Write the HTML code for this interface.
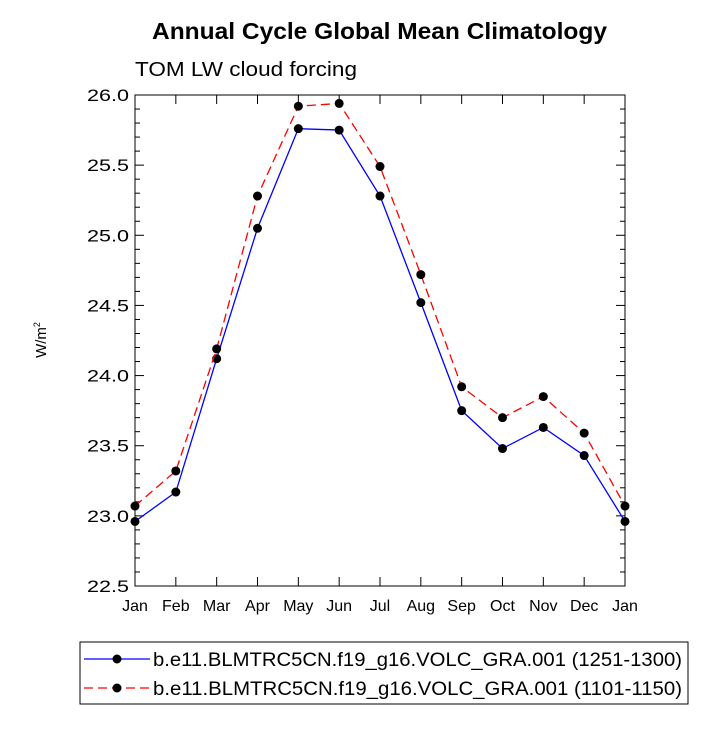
<!DOCTYPE html>
<html><head><meta charset="utf-8"><style>
body{margin:0;background:#fff}
svg text{font-family:"Liberation Sans",Arial,sans-serif}
</style></head><body>
<svg id="chart" width="727" height="728" xmlns="http://www.w3.org/2000/svg">
<text x="152" y="39" font-size="23" font-weight="bold" textLength="455" lengthAdjust="spacingAndGlyphs">Annual Cycle Global Mean Climatology</text>
<text x="135" y="76" font-size="20" textLength="222" lengthAdjust="spacingAndGlyphs">TOM LW cloud forcing</text>
<text transform="translate(46,340) rotate(-90)" font-size="15" text-anchor="middle">W/m<tspan font-size="9" dy="-6">2</tspan></text>
<g id="axes"></g>
<g id="series"></g>
<g id="legend">
<rect x="80" y="642" width="608" height="62" fill="#fff" stroke="#000" stroke-width="1"/>
</g>
</svg>
<script>
const months=["Jan","Feb","Mar","Apr","May","Jun","Jul","Aug","Sep","Oct","Nov","Dec","Jan"];
const yTicks=[22.5,23.0,23.5,24.0,24.5,25.0,25.5,26.0];
const series1=[22.96,23.17,24.12,25.05,25.76,25.75,25.28,24.52,23.75,23.48,23.63,23.43,22.96];
const series2=[23.07,23.32,24.19,25.28,25.92,25.94,25.49,24.72,23.92,23.70,23.85,23.59,23.07];
const labels=["b.e11.BLMTRC5CN.f19_g16.VOLC_GRA.001 (1251-1300)","b.e11.BLMTRC5CN.f19_g16.VOLC_GRA.001 (1101-1150)"];
const NS="http://www.w3.org/2000/svg";
const L=135,R=625,T=95,B=586,ymin=22.5,ymax=26.0;
function xs(i){return L+i*(R-L)/(months.length-1);}
function ys(v){return B-(v-ymin)/(ymax-ymin)*(B-T);}
function mk(tag,attrs,parent){const e=document.createElementNS(NS,tag);for(const k in attrs)e.setAttribute(k,attrs[k]);parent.appendChild(e);return e;}
const ax=document.getElementById('axes');
const frame=mk('rect',{x:L,y:T,width:R-L,height:B-T,fill:'none',stroke:'#000','stroke-width':1},ax);


for(let v=ymin;v<=ymax+1e-6;v+=0.1){
 const y=ys(v);const major=Math.abs(v*2-Math.round(v*2))<1e-6;const len=major?9:5;
 mk('line',{x1:L,x2:L+len,y1:y,y2:y,stroke:'#000'},ax);
 mk('line',{x1:R,x2:R-len,y1:y,y2:y,stroke:'#000'},ax);
}
yTicks.forEach(v=>{
 const t=mk('text',{x:L-6,y:ys(v)+6,'font-size':17,'text-anchor':'end',textLength:42,lengthAdjust:'spacingAndGlyphs'},ax);t.textContent=v.toFixed(1);
 
 
});
months.forEach((m,i)=>{
 const x=xs(i);
 mk('line',{x1:x,x2:x,y1:B,y2:B-9,stroke:'#000'},ax);
 mk('line',{x1:x,x2:x,y1:T,y2:T+9,stroke:'#000'},ax);
 const t=mk('text',{x:x,y:B+25,'font-size':16,'text-anchor':'middle'},ax);t.textContent=m;
 
 
});
const sg=document.getElementById('series');
function draw(vals,color,dash,name){
 const g=mk('g',{},sg);
 
 
 const p=mk('polyline',{points:vals.map((v,i)=>xs(i)+','+ys(v)).join(' '),fill:'none',stroke:color,'stroke-width':1.3,'stroke-dasharray':dash},g);
 
 
 vals.forEach((v,i)=>{
  const c=mk('circle',{cx:xs(i),cy:ys(v),r:4.5,fill:'#000'},g);
  
  
 });
}
draw(series1,'#0000ff','none','series-1251-1300');
draw(series2,'#ff0000','9,5','series-1101-1150');
const lg=document.getElementById('legend');
[[series1,'#0000ff','none',659],[series2,'#ff0000','9,5',688]].forEach((d,k)=>{
 const g=mk('g',{},lg);
 
 
 mk('line',{x1:84,x2:150,y1:d[3],y2:d[3],stroke:d[1],'stroke-width':1.3,'stroke-dasharray':d[2]},g);
 mk('circle',{cx:117,cy:d[3],r:4.5,fill:'#000'},g);
 const t=mk('text',{x:153,y:d[3]+7,'font-size':19,textLength:529,lengthAdjust:'spacingAndGlyphs'},g);t.textContent=labels[k];
});
</script>
</body></html>
